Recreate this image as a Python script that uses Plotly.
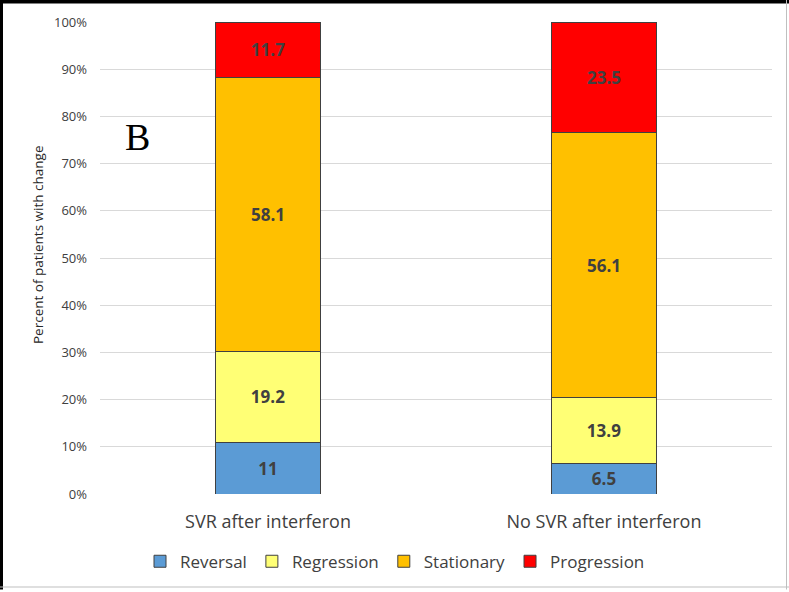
import plotly.graph_objects as go

categories = ["SVR after interferon", "No SVR after interferon"]
series_names = ["Reversal", "Regression", "Stationary", "Progression"]
reversal = [11, 6.5]
regression = [19.2, 13.9]
stationary = [58.1, 56.1]
progression = [11.7, 23.5]
series_values = [reversal, regression, stationary, progression]
colors = ["#5B9BD5", "#FFFF75", "#FFC000", "#FF0000"]
y_ticks = [0, 10, 20, 30, 40, 50, 60, 70, 80, 90, 100]
y_tick_labels = [f"{v}%" for v in y_ticks]

W, H = 789, 592
L, R, T, B = 100, 17, 22, 96
pw, ph = W - L - R, H - T - B
FONT = "Open Sans, sans-serif"

def px(x):
    return (x - L) / pw

def py(y):
    return (H - B - y) / ph

fig = go.Figure()
for name, vals, col in zip(series_names, series_values, colors):
    fig.add_trace(go.Bar(
        x=categories, y=vals, name=name,
        marker=dict(color=col, line=dict(color="#404040", width=1)),
        text=[str(v) for v in vals], texttemplate="%{text}",
        textposition="inside", insidetextanchor="middle", textangle=0,
        constraintext="none",
        textfont=dict(family=FONT, size=17, color="#404040", weight="bold"),
    ))

fig.update_layout(
    barmode="stack", bargap=0.687,
    width=W, height=H,
    margin=dict(l=L, r=R, t=T, b=B),
    paper_bgcolor="white", plot_bgcolor="white",
    font=dict(family=FONT, color="#404040"),
    showlegend=True,
    legend=dict(orientation="h", x=px(395), y=py(564), xanchor="center", yanchor="middle",
                font=dict(size=17, color="#404040"), traceorder="normal",
                itemwidth=30, tracegroupgap=0),
    xaxis=dict(showgrid=False, showline=False, zeroline=False,
               tickfont=dict(size=18, color="#404040"), ticklabelstandoff=15),
    yaxis=dict(range=[0, 100], tickvals=y_ticks, ticktext=y_tick_labels,
               showgrid=True, gridcolor="#D9D9D9", gridwidth=1, zeroline=False,
               showline=False, tickfont=dict(size=13, color="#404040"),
               ticklabelstandoff=12),
    annotations=[
        dict(text="B", x=px(137), y=py(137), xref="paper", yref="paper",
             showarrow=False, font=dict(family="Liberation Serif, serif", size=38, color="black"),
             xanchor="center", yanchor="middle"),
        dict(text="Percent of patients with change", x=px(38), y=py(246), xref="paper", yref="paper",
             showarrow=False, textangle=-90, font=dict(family=FONT, size=13.5, color="#262626"),
             xanchor="center", yanchor="middle"),
    ],
    shapes=[
        dict(type="rect", xref="paper", yref="paper", x0=px(0), x1=px(3), y0=py(0), y1=py(592),
             fillcolor="black", line=dict(width=0), layer="above"),
        dict(type="rect", xref="paper", yref="paper", x0=px(0), x1=px(789), y0=py(0), y1=py(3.5),
             fillcolor="black", line=dict(width=0), layer="above"),
        dict(type="rect", xref="paper", yref="paper", x0=px(786), x1=px(787), y0=py(0), y1=py(592),
             fillcolor="#BFBFBF", line=dict(width=0), layer="above"),
        dict(type="rect", xref="paper", yref="paper", x0=px(0), x1=px(789), y0=py(589), y1=py(590),
             fillcolor="#BFBFBF", line=dict(width=0), layer="above"),
    ],
)

fig.write_html(
    "out.html", config={"displayModeBar": False},
    post_script=("document.body.style.margin='0px';document.body.style.overflow='hidden';"
                 "var d=document.getElementById('{plot_id}');d.style.position='fixed';"
                 "d.style.top='0px';d.style.left='0px';"),
)
